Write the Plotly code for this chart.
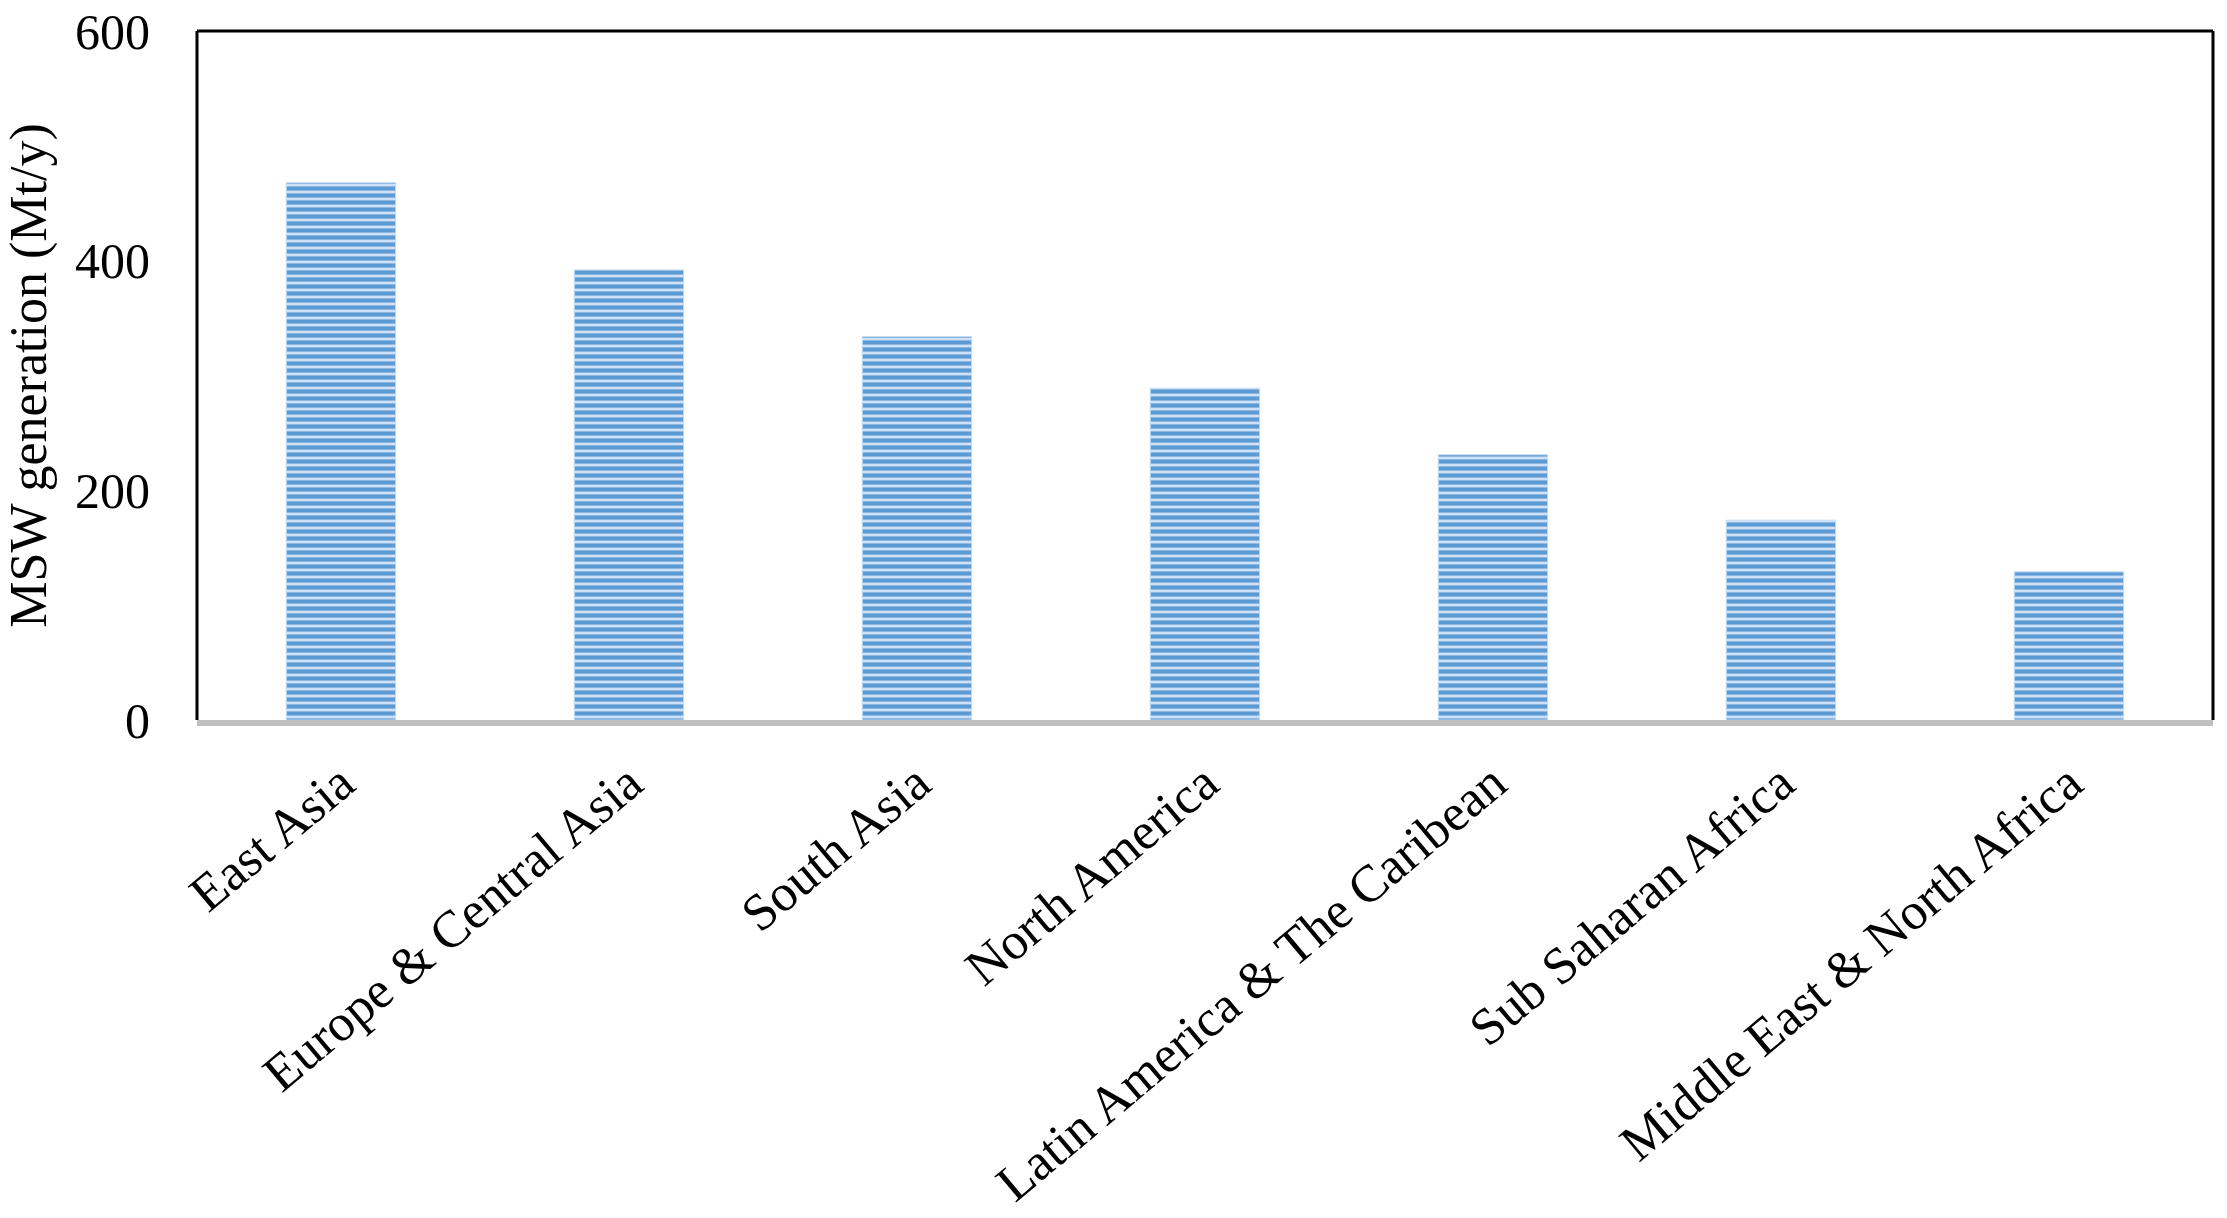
import plotly.graph_objects as go

regions = [
    "East Asia",
    "Europe & Central Asia",
    "South Asia",
    "North America",
    "Latin America & The Caribean",
    "Sub Saharan Africa",
    "Middle East & North Africa",
]
msw_generation = [468, 392, 334, 289, 231, 174, 129]
y_ticks = [0, 200, 400, 600]

FONT = "Liberation Serif"

fig = go.Figure()
fig.add_trace(go.Bar(
    x=regions,
    y=msw_generation,
    marker=dict(
        color="#CFE1F4",
        line=dict(color="#C9DDF2", width=1),
        pattern=dict(shape="-", fgcolor="#5B9BD5", bgcolor="#CFE1F4",
                     size=7, solidity=0.6, fillmode="replace"),
    ),
    showlegend=False,
))

fig.update_layout(
    width=2227,
    height=1218,
    margin=dict(l=197, r=14, t=31, b=498),
    paper_bgcolor="white",
    plot_bgcolor="white",
    bargap=0.62,
    font=dict(family=FONT, color="black", size=52),
    xaxis=dict(
        automargin=False,
        tickangle=-40,
        tickfont=dict(family=FONT, size=52, color="black"),
        showline=True,
        linecolor="#BFBFBF",
        linewidth=6,
        ticks="",
        showgrid=False,
        ticklabelstandoff=6,
    ),
    yaxis=dict(
        automargin=False,
        range=[0, 600],
        tickvals=y_ticks,
        ticktext=[str(v) for v in y_ticks],
        tickfont=dict(family=FONT, size=50, color="black"),
        ticklabeloverflow="allow",
        showgrid=False,
        zeroline=False,
        showline=False,
        ticks="",
        ticklabelstandoff=46,
        title=dict(text="MSW generation (Mt/y)",
                   font=dict(family=FONT, size=52, color="black"),
                   standoff=32),
    ),
    shapes=[
        dict(type="line", xref="paper", yref="paper", x0=0, x1=1, y0=1, y1=1,
             line=dict(color="black", width=3)),
        dict(type="line", xref="paper", yref="paper", x0=0, x1=0, y0=0, y1=1,
             line=dict(color="black", width=3)),
        dict(type="line", xref="paper", yref="paper", x0=1, x1=1, y0=0, y1=1,
             line=dict(color="black", width=3)),
    ],
)

fig.write_html(
    "out.html",
    config={"displayModeBar": False},
    post_script="document.body.style.margin='0';document.body.style.overflow='hidden';",
)
